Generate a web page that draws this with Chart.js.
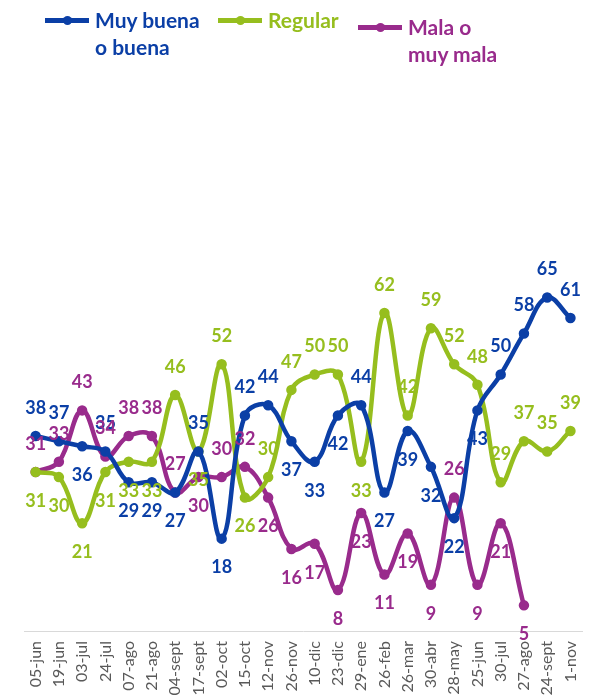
<!DOCTYPE html>
<html>
<head>
<meta charset="utf-8">
<script src="https://cdn.jsdelivr.net/npm/chart.js@4.4.1/dist/chart.umd.min.js"></script>
<style>
  html, body { margin: 0; padding: 0; background: #fff; overflow: hidden; }
  #wrap { position: relative; width: 600px; height: 696px; }
  #chart { position: absolute; left: 0; top: 0; }
  .leg { position: absolute; font-family: Lato, "Open Sans", sans-serif; font-weight: bold; font-size: 21px; line-height: 27px; }
  .leg .ln { position: absolute; left: 0; top: 12px; width: 44px; height: 5px; }
  .leg .dot { position: absolute; left: 18px; top: 10px; width: 9px; height: 9px; border-radius: 50%; }
  .leg .tx { position: absolute; left: 50px; top: 0; white-space: nowrap; }
</style>
</head>
<body>
<div id="wrap">
  <canvas id="chart" width="600" height="696"></canvas>
  <div class="leg" style="left:45px;top:6px;color:#0B3FA6">
    <div class="ln" style="background:#0B3FA6"></div><div class="dot" style="background:#0B3FA6"></div>
    <div class="tx">Muy buena<br>o buena</div>
  </div>
  <div class="leg" style="left:218px;top:6px;color:#96BE1E">
    <div class="ln" style="background:#96BE1E"></div><div class="dot" style="background:#96BE1E"></div>
    <div class="tx">Regular</div>
  </div>
  <div class="leg" style="left:358px;top:13px;color:#992B8C">
    <div class="ln" style="background:#992B8C"></div><div class="dot" style="background:#992B8C"></div>
    <div class="tx">Mala o<br>muy mala</div>
  </div>
</div>
<script>
// fechas de las encuestas
var fechas = ['05-jun', '19-jun', '03-jul', '24-jul', '07-ago', '21-ago', '04-sept', '17-sept', '02-oct', '15-oct',
    '12-nov', '26-nov', '10-dic', '23-dic', '29-ene', '26-feb', '26-mar', '30-abr', '28-may', '25-jun',
    '30-jul', '27-ago', '24-sept', '1-nov'];

var muyBuena = [38, 37, 36, 35, 29, 29, 27, 35, 18, 42, 44, 37, 33, 42, 44, 27, 39, 32, 22, 43, 50, 58, 65, 61];
var regular = [31, 30, 21, 31, 33, 33, 46, 35, 52, 26, 30, 47, 50, 50, 33, 62, 42, 59, 52, 48, 29, 37, 35, 39];
var mala = [31, 33, 43, 34, 38, 38, 27, 30, 30, 32, 26, 16, 17, 8, 23, 11, 19, 9, 26, 9, 21, 5, null, null];

// donde va cada etiqueta: a = arriba, b = abajo
var posMuyBuena = ['a','a','b','a','b','b','b','a','b','a','a','b','b','b','a','b','b','b','b','b','a','a','a','a'];
var posRegular = ['b','b','b','b','b','b','a','b','a','b','a','a','a','a','b','a','a','a','a','a','a','a','a','a'];
var posMala = ['a','a','a','a','a','a','a','b','a','a','b','b','b','b','b','b','b','b','a','b','b','b','a','a'];

var etiquetas = {
    id: 'etiquetas',
    afterDatasetsDraw: function (chart) {
        var ctx = chart.ctx;
        chart.data.datasets.forEach(function (ds, i) {
            var meta = chart.getDatasetMeta(i);
            meta.data.forEach(function (pt, j) {
                var v = ds.data[j];
                if (v === null || v === undefined) return;
                var abajo = ds.pos[j] === 'b';
                ctx.save();
                ctx.font = 'bold 18px Lato, "Open Sans", sans-serif';
                ctx.fillStyle = ds.borderColor;
                ctx.textAlign = 'center';
                ctx.textBaseline = 'middle';
                ctx.fillText(v, pt.x, pt.y + (abajo ? 29 : -28));
                ctx.restore();
            });
        });
    }
};

function serie(nombre, datos, color, pos) {
    return {
        label: nombre,
        data: datos,
        pos: pos,
        borderColor: color,
        backgroundColor: color,
        borderWidth: 4.5,
        pointRadius: 3,
        pointHoverRadius: 3,
        tension: 0.4,
        fill: false
    };
}

var ctx = document.getElementById('chart').getContext('2d');
var grafica = new Chart(ctx, {
    type: 'line',
    data: {
        labels: fechas,
        datasets: [
            serie('Muy buena o buena', muyBuena, '#0B3FA6', posMuyBuena),
            serie('Regular', regular, '#96BE1E', posRegular),
            serie('Mala o muy mala', mala, '#992B8C', posMala)
        ]
    },
    options: {
        responsive: false,
        animation: false,
        layout: { padding: { left: 24, right: 17, top: 118, bottom: 0 } },
        plugins: {
            legend: { display: false },
            tooltip: { enabled: false }
        },
        scales: {
            x: {
                offset: true,
                afterFit: function (scale) { scale.height = 65; },
                grid: { display: false, drawTicks: false },
                border: { display: true, color: '#d9d9d9', width: 1 },
                ticks: {
                    color: '#595959',
                    font: { family: 'Lato, "Open Sans", sans-serif', size: 16 },
                    minRotation: 90,
                    maxRotation: 90,
                    autoSkip: false,
                    padding: 10
                }
            },
            y: {
                display: false,
                min: 0,
                max: 100
            }
        }
    },
    plugins: [etiquetas]
});
</script>
</body>
</html>
